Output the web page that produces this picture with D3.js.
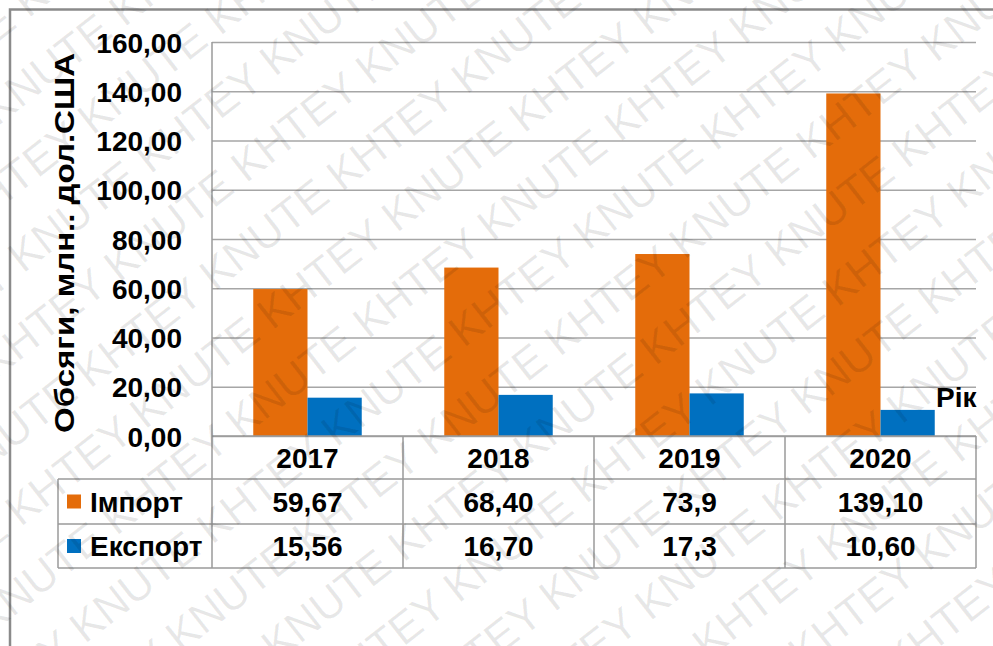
<!DOCTYPE html>
<html>
<head>
<meta charset="utf-8">
<script src="https://cdn.jsdelivr.net/npm/d3@7"></script>
<style>
  body { margin: 0; background: #fff; }
  svg { display: block; font-family: "Liberation Sans", Arial, sans-serif; }
</style>
</head>
<body>
<svg width="993" height="646"></svg>
<script>
// дані
const years = ["2017", "2018", "2019", "2020"];
const series = ["Імпорт", "Експорт"];
const importVals = [59.67, 68.40, 73.9, 139.10];
const exportVals = [15.56, 16.70, 17.3, 10.60];
const importLabels = ["59,67", "68,40", "73,9", "139,10"];
const exportLabels = ["15,56", "16,70", "17,3", "10,60"];
const yTicks = [0, 20, 40, 60, 80, 100, 120, 140, 160];
const colors = ["#E46C0A", "#0070C0"];

const svg = d3.select("svg");
const W = 993, H = 646;
const FS = "28px";

const area = { left: 212, right: 976, top: 42, bottom: 436, legendLeft: 58, rowH: [43, 45, 44] };

const locale = d3.formatLocale({ decimal: ",", thousands: " ", grouping: [3], currency: ["", ""] });
const fmt = locale.format(".2f");

const scaleY = d3.scaleLinear().domain([0, 160]).range([area.bottom, area.top]);
const scaleX = d3.scaleBand().domain(years).range([area.left, area.right]).padding(0);
const bw = scaleX.bandwidth();
const scaleS = d3.scaleBand().domain(series).range([bw * 0.216, bw * 0.784]).padding(0);

// рамка
svg.append("path")
  .attr("d", `M10,${H} L10,9.5 L${W},9.5`)
  .attr("fill", "none").attr("stroke", "#8a8a8a").attr("stroke-width", 2.5);

// сітка та вісь Y
const gY = svg.append("g")
  .attr("transform", `translate(${area.left},0)`)
  .call(d3.axisLeft(scaleY).tickValues(yTicks).tickFormat(fmt)
    .tickSize(-(area.right - area.left)).tickPadding(30));
gY.select(".domain").remove();
gY.selectAll(".tick line").attr("stroke", "#a6a6a6").attr("stroke-width", 1.5);
gY.selectAll(".tick text")
  .attr("fill", "#000").style("font-size", FS).style("font-weight", "bold")
  .attr("dy", "0.36em");

// стовпці
const rows = [importVals, exportVals];
rows.forEach((vals, si) => {
  svg.append("g").selectAll("rect")
    .data(vals)
    .enter()
    .append("rect")
    .attr("x", (d, i) => scaleX(years[i]) + scaleS(series[si]))
    .attr("y", d => scaleY(d))
    .attr("width", scaleS.bandwidth())
    .attr("height", d => scaleY(0) - scaleY(d))
    .attr("fill", colors[si]);
});

// таблиця даних
const y0 = area.bottom, y1 = y0 + area.rowH[0], y2 = y1 + area.rowH[1], y3 = y2 + area.rowH[2];
const lineColor = "#9a9a9a";
const tbl = svg.append("g").attr("stroke", lineColor).attr("stroke-width", 1.5).attr("fill", "none");
tbl.append("line").attr("x1", area.left).attr("x2", area.right).attr("y1", y0).attr("y2", y0);
[y1, y2, y3].forEach(y => tbl.append("line")
  .attr("x1", area.legendLeft).attr("x2", area.right).attr("y1", y).attr("y2", y));
tbl.append("line").attr("x1", area.legendLeft).attr("x2", area.legendLeft).attr("y1", y1).attr("y2", y3);
tbl.append("line").attr("x1", area.left).attr("x2", area.left).attr("y1", area.top).attr("y2", y3);
years.forEach(yr => {
  const x = scaleX(yr) + bw;
  tbl.append("line").attr("x1", x).attr("x2", x).attr("y1", y0).attr("y2", y3);
});

const txt = svg.append("g").attr("fill", "#000")
  .style("font-size", FS).style("font-weight", "bold").attr("text-anchor", "middle");
years.forEach((yr, i) => {
  const cx = scaleX(yr) + bw / 2;
  txt.append("text").attr("x", cx).attr("y", (y0 + y1) / 2).attr("dy", "0.36em").text(yr);
  txt.append("text").attr("x", cx).attr("y", (y1 + y2) / 2).attr("dy", "0.36em").text(importLabels[i]);
  txt.append("text").attr("x", cx).attr("y", (y2 + y3) / 2).attr("dy", "0.36em").text(exportLabels[i]);
});

// легенда в таблиці
series.forEach((s, si) => {
  const cy = si === 0 ? (y1 + y2) / 2 : (y2 + y3) / 2;
  svg.append("rect").attr("x", 67).attr("y", cy - 7).attr("width", 14).attr("height", 14).attr("fill", colors[si]);
  svg.append("text").attr("x", 90).attr("y", cy).attr("dy", "0.36em")
    .style("font-size", FS).style("font-weight", "bold").attr("fill", "#000").text(s);
});

// підписи осей
svg.append("text")
  .attr("transform", `translate(74,243) rotate(-90)`)
  .attr("text-anchor", "middle")
  .attr("textLength", 380).attr("lengthAdjust", "spacingAndGlyphs")
  .style("font-size", FS).style("font-weight", "bold").attr("fill", "#000")
  .text("Обсяги, млн.. дол.США");
svg.append("text")
  .attr("x", 936).attr("y", 407)
  .style("font-size", FS).style("font-weight", "bold").attr("fill", "#000")
  .text("Рік");

// водяний знак
const wm = svg.append("g").attr("pointer-events", "none")
  .attr("transform", `translate(${W / 2},${H / 2}) rotate(-38)`);
const wmLine = d3.range(8).map(() => "KHTEY KNUTE").join(" ");
d3.range(-10, 11).forEach(k => {
  wm.append("text")
    .attr("x", -1000 + (k % 3) * 70).attr("y", k * 66)
    .style("font-size", "44px").attr("fill", "#000").attr("fill-opacity", 0.09)
    .text(wmLine);
});
</script>
</body>
</html>
